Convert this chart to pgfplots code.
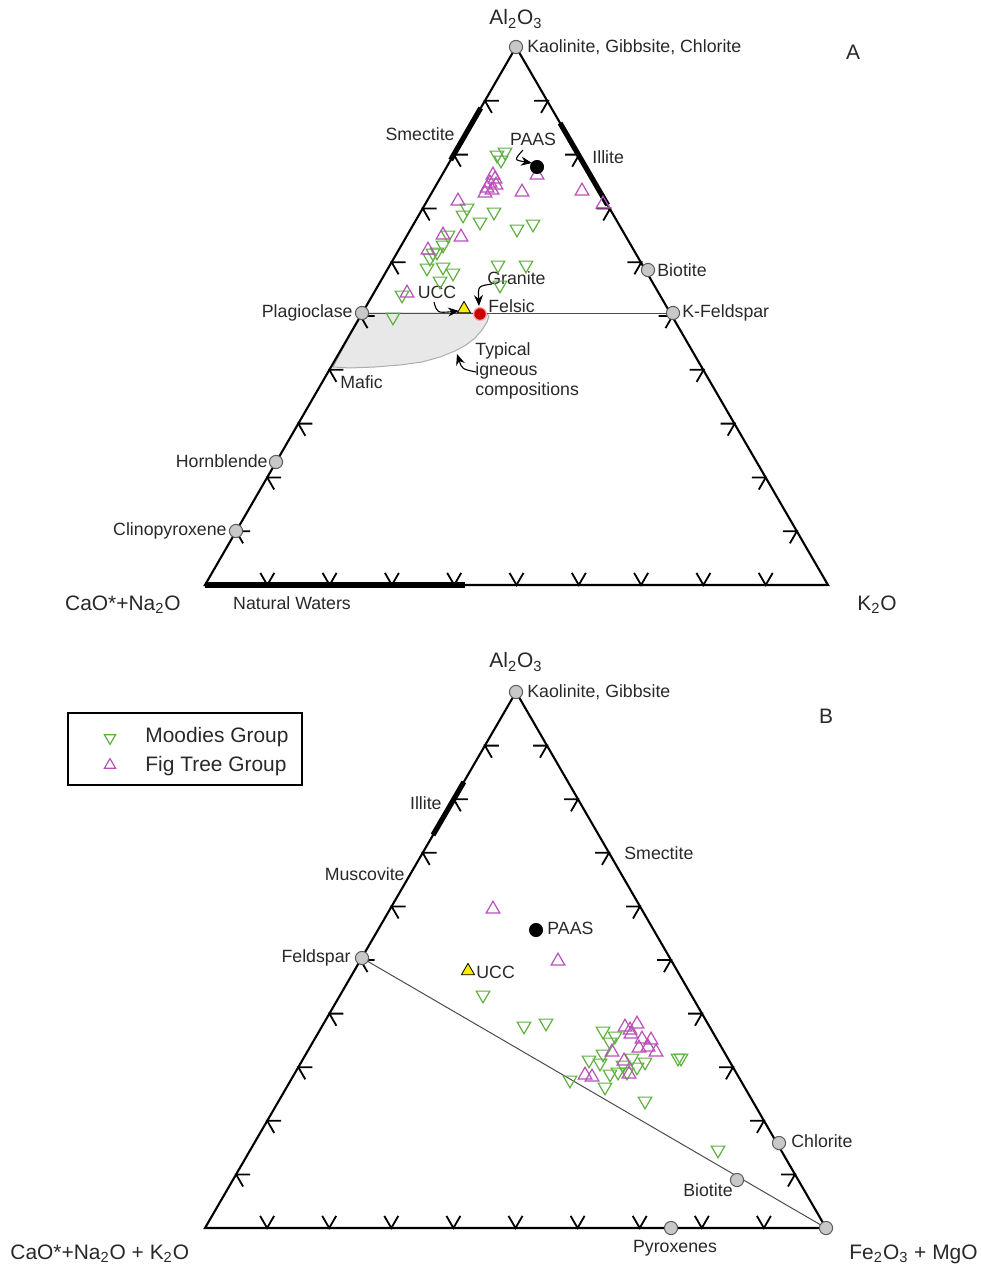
\documentclass[border=0pt]{standalone}
\usepackage{fontspec}
\setmainfont{Liberation Sans}
\usepackage{pgfplots}
\pgfplotsset{compat=1.18}
\usetikzlibrary{arrows.meta}
\definecolor{mgreen}{RGB}{95,175,65}
\definecolor{fmag}{RGB}{185,80,185}
\definecolor{ptgray}{RGB}{200,200,200}
\definecolor{txt}{RGB}{40,40,40}
\tikzset{
  lbl/.style={font=\fontsize{8.9}{10}\selectfont, text=txt, inner sep=0pt},
  big/.style={font=\fontsize{10.5}{12}\selectfont, text=txt, inner sep=0pt},
  tk/.style={line width=0.9bp},
  ar/.style={-{Stealth[length=5.5bp,width=4.5bp]}, line width=0.55bp},
}
\pgfplotsset{
  moodies/.style={only marks, mark=triangle, mark size=3.9bp,
     mark options={rotate=180, draw=mgreen, fill=none, line width=0.6bp}},
  figtree/.style={only marks, mark=triangle, mark size=3.9bp,
     mark options={draw=fmag, fill=none, line width=0.6bp}},
  mineral/.style={only marks, mark=*, mark size=3.3bp,
     mark options={fill=ptgray, draw=gray!70!black, line width=0.5bp}},
}
\begin{document}
\begin{tikzpicture}
\begin{axis}[
  width=490.5bp, height=634bp, scale only axis,
  xmin=0, xmax=981, ymin=0, ymax=1268, y dir=reverse,
  hide axis, clip=false,
]
\path (axis cs:0,0) rectangle (axis cs:981,1268);

% ================= Diagram A =================
\addplot[fill=gray!18, draw=gray!65, line width=0.5bp] coordinates {
 (362,313)(486,313)(489,316)(487,322)(482,330)(475,338)(466,345)(455,351)
 (440,357)(422,362)(400,365)(375,367)(350,368)(333,367)} -- cycle;
\addplot[gray!60!black, line width=0.5bp] coordinates {(362,313)(672,313)};

\draw[line width=1.05bp, line join=miter] (axis cs:205,585) -- (axis cs:516,47) -- (axis cs:828,585) -- cycle;
\pgfplotsinvokeforeach{1,...,9}{
  \draw[tk] (axis cs:{205+62.3*#1-7},{585-12.1}) -- (axis cs:{205+62.3*#1},585) -- (axis cs:{205+62.3*#1+7},{585-12.1});
  \draw[tk] (axis cs:{205+31.1*#1+14},{585-53.8*#1}) -- (axis cs:{205+31.1*#1},{585-53.8*#1}) -- (axis cs:{205+31.1*#1+7},{585-53.8*#1+12.1});
  \draw[tk] (axis cs:{828-31.1*#1-14},{585-53.8*#1}) -- (axis cs:{828-31.1*#1},{585-53.8*#1}) -- (axis cs:{828-31.1*#1-7},{585-53.8*#1+12.1});
}
% thick bars
\draw[line width=2.6bp] (axis cs:205,585) -- (axis cs:465,585);
\draw[line width=2.6bp] (axis cs:450.7,160) -- (axis cs:480.7,108);
\draw[line width=2.6bp] (axis cs:560,123) -- (axis cs:607.6,205);

% data A
\addplot[moodies] coordinates {
 (497,155)(505,152)(501,160)(467,208)(463,215)(480,222)(494,212)(517,229)
 (533,224)(448,235)(437,252)(443,245)(430,258)(433,253)(427,268)(443,267)
 (453,273)(440,281)(498,265)(526,265)(500,285)(402,295)(393,317)};
\addplot[figtree] coordinates {
 (537,175)(493,175)(495,179)(490,183)(496,185)(487,188)(492,190)(485,193)
 (522,192)(458,201)(461,237)(443,235)(428,250)(407,293)(582,191)(603,204)};

\addplot[mineral] coordinates {(516,47)(648,270)(673,313)(362,313)(276,462)(236,531)};
\addplot[only marks, mark=triangle*, mark size=3.8bp, mark options={fill=yellow!95!orange, draw=none}] coordinates {(464,309)};
\addplot[only marks, mark=*, mark size=3.2bp, mark options={fill=red!80!black, draw=red!35, line width=0.6bp}] coordinates {(480,314)};
\addplot[only marks, mark=*, mark size=3.3bp, mark options={fill=black}] coordinates {(537,167)};

% arrows A
\draw[ar] (axis cs:434,302) .. controls (axis cs:437,313) .. (axis cs:459,311);
\draw[ar] (axis cs:492,284) .. controls (axis cs:478,286) .. (axis cs:479,306);
\draw[ar] (axis cs:523,150) .. controls (axis cs:514,160) .. (axis cs:532,163);
\draw[ar] (axis cs:476,372) .. controls (axis cs:462,369) .. (axis cs:457,354);

% labels A
\node[big] at (axis cs:516,19) {Al\textsubscript{2}O\textsubscript{3}};
\node[lbl, anchor=west] at (axis cs:527,47) {Kaolinite, Gibbsite, Chlorite};
\node[big] at (axis cs:853,52) {A};
\node[lbl, anchor=east] at (axis cs:455,134) {Smectite};
\node[lbl] at (axis cs:533,139) {PAAS};
\node[lbl, anchor=west] at (axis cs:592,157) {Illite};
\node[lbl, anchor=west] at (axis cs:657,270) {Biotite};
\node[lbl, anchor=west] at (axis cs:682,313) {K-Feldspar};
\node[lbl, anchor=east] at (axis cs:353,313) {Plagioclase};
\node[lbl] at (axis cs:437,292) {UCC};
\node[lbl, anchor=west] at (axis cs:487,278) {Granite};
\node[lbl, anchor=west] at (axis cs:488,306) {Felsic};
\node[lbl, anchor=west] at (axis cs:475,351) {Typical};
\node[lbl, anchor=west] at (axis cs:475,371) {igneous};
\node[lbl, anchor=west] at (axis cs:475,391) {compositions};
\node[lbl, anchor=west] at (axis cs:340,382) {Mafic};
\node[lbl, anchor=east] at (axis cs:268,461) {Hornblende};
\node[lbl, anchor=east] at (axis cs:227,531) {Clinopyroxene};
\node[lbl] at (axis cs:292,603) {Natural Waters};
\node[big] at (axis cs:123,605) {CaO*+Na\textsubscript{2}O};
\node[big] at (axis cs:877,605) {K\textsubscript{2}O};

% ================= Diagram B =================
\addplot[gray!60!black, line width=0.5bp] coordinates {(362,958)(826,1228)};
\draw[line width=1.05bp, line join=miter] (axis cs:205,1228) -- (axis cs:516,692) -- (axis cs:826,1228) -- cycle;
\pgfplotsinvokeforeach{1,...,9}{
  \draw[tk] (axis cs:{205+62.1*#1-7},{1228-12.1}) -- (axis cs:{205+62.1*#1},1228) -- (axis cs:{205+62.1*#1+7},{1228-12.1});
  \draw[tk] (axis cs:{205+31.1*#1+14},{1228-53.6*#1}) -- (axis cs:{205+31.1*#1},{1228-53.6*#1}) -- (axis cs:{205+31.1*#1+7},{1228-53.6*#1+12.1});
  \draw[tk] (axis cs:{826-31.0*#1-14},{1228-53.6*#1}) -- (axis cs:{826-31.0*#1},{1228-53.6*#1}) -- (axis cs:{826-31.0*#1-7},{1228-53.6*#1+12.1});
}
\draw[line width=2.6bp] (axis cs:433,835) -- (axis cs:463.8,782);

% data B
\addplot[moodies] coordinates {
 (483,995)(524,1026)(546,1023)(603,1031)(615,1036)(610,1042)(603,1054)
 (589,1060)(600,1063)(632,1058)(623,1065)(645,1062)(637,1067)(610,1074)
 (618,1072)(627,1072)(605,1087)(570,1080)(645,1101)(678,1058)(681,1058)(718,1150)};
\addplot[figtree] coordinates {
 (493,909)(558,961)(625,1027)(637,1024)(630,1030)(631,1034)(642,1039)(651,1040)
 (639,1048)(648,1047)(656,1052)(612,1052)(624,1061)(585,1075)(592,1077)(629,1074)};

\addplot[mineral] coordinates {(516,692)(362,958)(779,1143)(737,1180)(826,1228)(671,1228)};
\addplot[only marks, mark=triangle*, mark size=3.8bp, mark options={fill=yellow!95!orange, draw=none}] coordinates {(468,971)};
\addplot[only marks, mark=*, mark size=3.3bp, mark options={fill=black}] coordinates {(536,930)};

% labels B
\node[big] at (axis cs:516,662) {Al\textsubscript{2}O\textsubscript{3}};
\node[lbl, anchor=west] at (axis cs:527,692) {Kaolinite, Gibbsite};
\node[big] at (axis cs:826,716) {B};
\node[lbl, anchor=east] at (axis cs:442,803) {Illite};
\node[lbl, anchor=west] at (axis cs:624,853) {Smectite};
\node[lbl, anchor=east] at (axis cs:405,874) {Muscovite};
\node[lbl, anchor=west] at (axis cs:547,928) {PAAS};
\node[lbl, anchor=east] at (axis cs:351,958) {Feldspar};
\node[lbl, anchor=west] at (axis cs:476,972) {UCC};
\node[lbl, anchor=west] at (axis cs:791,1141) {Chlorite};
\node[lbl] at (axis cs:708,1190) {Biotite};
\node[lbl] at (axis cs:675,1248) {Pyroxenes};
\node[big, anchor=west] at (axis cs:10,1254) {CaO*+Na\textsubscript{2}O + K\textsubscript{2}O};
\node[big, anchor=east] at (axis cs:978,1254) {Fe\textsubscript{2}O\textsubscript{3} + MgO};

% legend
\draw[line width=0.9bp] (axis cs:68,713) rectangle (axis cs:302,785);
\addplot[only marks, mark=triangle, mark size=3.2bp, mark options={rotate=180, draw=mgreen, line width=0.6bp}] coordinates {(110,738)};
\addplot[only marks, mark=triangle, mark size=3.2bp, mark options={draw=fmag, line width=0.6bp}] coordinates {(110,765)};
\node[big, anchor=west] at (axis cs:145,737) {Moodies Group};
\node[big, anchor=west] at (axis cs:145,766) {Fig Tree Group};
\end{axis}
\end{tikzpicture}
\end{document}
